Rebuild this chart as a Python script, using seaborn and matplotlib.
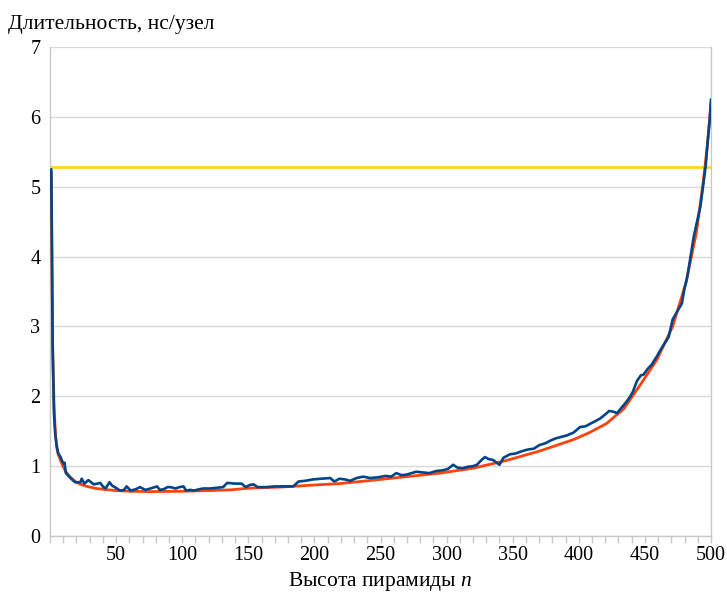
import numpy as np
import pandas as pd
import matplotlib
matplotlib.use("Agg")
import matplotlib.pyplot as plt
from matplotlib.ticker import MultipleLocator
import seaborn as sns

# measured time per node (noisy run)
n_meas = [1, 2, 3, 4, 5, 6, 7, 8, 9, 10, 11, 12, 14, 16, 19, 23, 24, 26, 29, 33,
          36, 38, 40, 42, 45, 47, 49, 53, 56, 58, 61, 65, 68, 72, 76, 81, 83, 86, 89, 91,
          95, 98, 101, 103, 106, 109, 113, 116, 121, 126, 131, 134, 140, 145, 148, 151, 154, 157, 164, 170,
          177, 184, 188, 193, 199, 205, 212, 215, 219, 223, 227, 232, 237, 242, 248, 254, 258, 262, 266, 270,
          277, 282, 287, 292, 297, 301, 305, 308, 312, 316, 320, 323, 326, 329, 332, 335, 340, 343, 348, 352,
          358, 362, 366, 370, 375, 379, 383, 387, 391, 396, 401, 405, 409, 413, 416, 420, 423, 426, 429, 432,
          436, 439, 441, 444, 447, 449, 452, 455, 459, 462, 465, 468, 471, 474, 478, 480, 482, 485, 487, 490,
          492, 494, 496, 497, 499, 500]
t_meas = [5.25, 2.70, 1.75, 1.45, 1.30, 1.20, 1.16, 1.13, 1.08, 1.04, 1.05, 0.90, 0.86, 0.82, 0.77, 0.77, 0.82, 0.75, 0.80, 0.74,
          0.75, 0.76, 0.71, 0.68, 0.77, 0.72, 0.70, 0.65, 0.66, 0.71, 0.65, 0.67, 0.70, 0.66, 0.68, 0.71, 0.66, 0.67, 0.70, 0.70,
          0.68, 0.70, 0.71, 0.65, 0.66, 0.65, 0.67, 0.68, 0.68, 0.69, 0.70, 0.76, 0.75, 0.75, 0.70, 0.73, 0.74, 0.70, 0.70, 0.71,
          0.71, 0.71, 0.78, 0.79, 0.81, 0.82, 0.83, 0.78, 0.82, 0.81, 0.79, 0.83, 0.85, 0.83, 0.84, 0.86, 0.85, 0.90, 0.87, 0.88,
          0.92, 0.91, 0.90, 0.93, 0.94, 0.96, 1.02, 0.98, 0.97, 0.99, 1.00, 1.02, 1.08, 1.13, 1.10, 1.09, 1.02, 1.12, 1.17, 1.18,
          1.22, 1.24, 1.25, 1.30, 1.33, 1.37, 1.40, 1.42, 1.44, 1.48, 1.56, 1.57, 1.61, 1.65, 1.68, 1.74, 1.79, 1.78, 1.76, 1.83,
          1.92, 2.00, 2.07, 2.22, 2.30, 2.31, 2.39, 2.45, 2.57, 2.67, 2.76, 2.85, 3.10, 3.20, 3.33, 3.55, 3.70, 4.05, 4.29, 4.55,
          4.72, 5.01, 5.30, 5.54, 5.95, 6.25]

# fitted model curve
n_fit = [1, 2, 3, 4, 5, 6, 8, 10, 12, 15, 19, 23, 28, 35, 42, 50, 61, 75, 98, 120,
         136, 151, 174, 200, 219, 240, 260, 280, 295, 320, 345, 371, 396, 408, 421, 434, 446, 459, 471, 481,
         489, 494, 497, 500]
t_fit = [5.20, 2.75, 1.90, 1.50, 1.28, 1.18, 1.08, 0.99, 0.92, 0.85, 0.78, 0.74, 0.71, 0.68, 0.665, 0.65, 0.64, 0.635, 0.64, 0.65,
         0.66, 0.685, 0.70, 0.73, 0.75, 0.79, 0.83, 0.87, 0.90, 0.97, 1.08, 1.22, 1.38, 1.48, 1.61, 1.82, 2.15, 2.52, 3.00, 3.62,
         4.35, 5.05, 5.55, 6.20]

# reference level
t_ref = 5.28

sns.set_theme(style="white")
plt.rcParams["font.family"] = ["Liberation Serif", "DejaVu Serif"]
plt.rcParams["mathtext.fontset"] = "custom"
plt.rcParams["mathtext.it"] = "Liberation Serif:italic"
plt.rcParams["mathtext.rm"] = "Liberation Serif"
plt.rcParams["text.color"] = "black"
plt.rcParams["axes.labelcolor"] = "black"
plt.rcParams["xtick.labelcolor"] = "black"
plt.rcParams["ytick.labelcolor"] = "black"

meas = pd.DataFrame({"n": n_meas, "t": t_meas})
fit = pd.DataFrame({"n": n_fit, "t": t_fit})

fig = plt.figure(figsize=(7.27, 5.92), dpi=100)
ax = fig.add_axes([50 / 727, 1 - 536 / 592, 661 / 727, 489 / 592])

ax.axhline(t_ref, color="#ffd320", lw=2.0, zorder=2)
sns.lineplot(data=fit, x="n", y="t", color="#ff420e", lw=2.0, ax=ax, zorder=3)
sns.lineplot(data=meas, x="n", y="t", color="#004586", lw=1.9, ax=ax, zorder=4)

ax.set_xlim(0, 500)
ax.set_ylim(0, 7)
ax.xaxis.set_minor_locator(MultipleLocator(10))
ax.set_xticks(np.arange(50, 501, 50))
ax.yaxis.set_major_locator(MultipleLocator(1))
ax.grid(axis="y", color="#d9d9d9", lw=1.0)
ax.set_axisbelow(True)

for side in ["left", "bottom", "right"]:
    ax.spines[side].set_color("#c8c8c8")
    ax.spines[side].set_linewidth(1.0)
ax.spines["top"].set_visible(False)

ax.tick_params(axis="x", which="both", direction="out", length=5, width=1,
               color="#c8c8c8", labelsize=14.5, pad=2, bottom=True)
ax.tick_params(axis="y", which="both", length=0, labelsize=14.5, pad=7)

ax.set_xlabel("Высота пирамиды $\\mathit{n}$", fontsize=15.5, labelpad=4)
ax.set_ylabel("")
fig.text(8 / 727, 1 - 29 / 592, "Длительность, нс/узел", fontsize=15.5,
         ha="left", va="baseline")

fig.savefig("out.png", dpi=100)
